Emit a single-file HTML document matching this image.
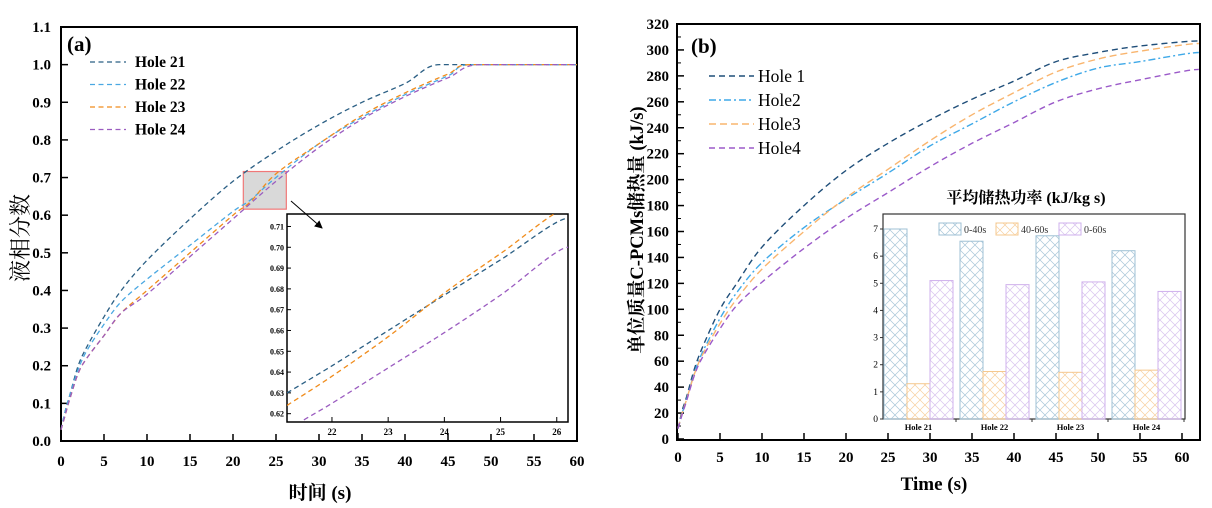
<!DOCTYPE html>
<html><head><meta charset="utf-8">
<style>
body{margin:0;background:#fff;}
svg{display:block;font-family:"Liberation Serif","Noto Serif CJK SC",serif;}
.tk{font-weight:bold;font-size:15px;}
</style></head>
<body>
<svg id="svg" width="1212" height="508" viewBox="0 0 1212 508">
<defs>
<pattern id="hb" width="10" height="10" patternUnits="userSpaceOnUse"><path d="M0,0L10,10M10,0L0,10" stroke="#a8c6d8" stroke-width="0.7"/></pattern>
<pattern id="ho" width="10" height="10" patternUnits="userSpaceOnUse"><path d="M0,0L10,10M10,0L0,10" stroke="#f7cf9e" stroke-width="0.7"/></pattern>
<pattern id="hp" width="10" height="10" patternUnits="userSpaceOnUse"><path d="M0,0L10,10M10,0L0,10" stroke="#d8c2ee" stroke-width="0.7"/></pattern>
<marker id="arr" markerWidth="8" markerHeight="8" refX="7" refY="4" orient="auto"><path d="M0,0L8,4L0,8z" fill="#000"/></marker>
</defs>
<g id="A"></g><g id="B"></g>
</svg>
<script>
// ---------- Chart (a) data ----------
const aX21=[0,0.5,1,2,3,5,7,10,15,20,25,30,35,40,44,50,60];
const aY21=[0.03,0.08,0.12,0.2,0.25,0.33,0.4,0.48,0.59,0.69,0.77,0.84,0.9,0.95,1.0,1.0,1.0];
const aX22=[0,0.5,1,2,3,5,7,10,15,20,22,25,30,35,40,45,48,60];
const aY22=[0.03,0.08,0.12,0.19,0.24,0.31,0.37,0.43,0.52,0.61,0.64,0.7,0.79,0.86,0.92,0.97,1.0,1.0];
const aX23=[0,0.5,1,2,3,5,7,10,15,20,22,25,30,35,40,45,48,60];
const aY23=[0.03,0.07,0.11,0.18,0.22,0.28,0.34,0.4,0.5,0.6,0.635,0.71,0.79,0.865,0.925,0.975,1.0,1.0];
const aX24=[0,0.5,1,2,3,5,7,10,15,20,25,30,35,40,45,49,60];
const aY24=[0.03,0.07,0.11,0.18,0.22,0.28,0.34,0.39,0.49,0.59,0.69,0.78,0.855,0.915,0.965,1.0,1.0];
const insX21=[21.2,22,23,24,25,26.2];
const insY21=[0.630,0.643,0.660,0.677,0.694,0.714];
const insX23=[21.2,22,23,24,25,26.2];
const insY23=[0.624,0.638,0.657,0.678,0.697,0.719];
const insX24=[21.5,22,23,24,25,26.2];
const insY24=[0.617,0.625,0.642,0.659,0.677,0.700];
const aXTicks=[0,5,10,15,20,25,30,35,40,45,50,55,60];
const aYTicks=[0,0.1,0.2,0.3,0.4,0.5,0.6,0.7,0.8,0.9,1.0,1.1];
const insXTicks=[22,23,24,25,26];
const insYTicks=[0.62,0.63,0.64,0.65,0.66,0.67,0.68,0.69,0.70,0.71];
const aNames=["Hole 21","Hole 22","Hole 23","Hole 24"];
const aColors=["#2b5f84","#4aa8e2","#f08c1c","#9b5cc0"];
// ---------- Chart (b) data ----------
const bX=[0,0.5,1,2,3,5,7,10,15,20,25,30,35,40,45,50,55,62];
const bY1=[8,22,32,55,72,100,120,148,180,207,228,246,262,276,291,298,303,307];
const bY2=[8,20,30,52,68,93,113,136,163,185,205,226,243,260,275,286,291,298];
const bY3=[8,20,30,51,66,89,108,131,160,186,208,230,250,267,283,293,299,305];
const bY4=[8,19,29,50,64,85,103,121,147,170,190,210,228,244,260,270,277,285];
const bXTicks=[0,5,10,15,20,25,30,35,40,45,50,55,60];
const bYTicks=[0,20,40,60,80,100,120,140,160,180,200,220,240,260,280,300,320];
const bNames=["Hole 1","Hole2","Hole3","Hole4"];
const bColors=["#1f4e79","#3fa9e8","#f9b56e","#9b5ac9"];
const bDash=["6,4","7,3,2,3","7,4","6,4"];
const barCats=["Hole 21","Hole 22","Hole 23","Hole 24"];
const bar040=[7.0,6.55,6.75,6.2];
const bar4060=[1.3,1.75,1.72,1.8];
const bar060=[5.1,4.95,5.05,4.7];
const barYTicks=[0,1,2,3,4,5,6,7];
const barSeries=["0-40s","40-60s","0-60s"];

const NS="http://www.w3.org/2000/svg";
function mk(parent,tag,attrs,name,txt){
  const e=document.createElementNS(NS,tag);
  for(const k in attrs)e.setAttribute(k,attrs[k]);
  
  
  if(txt!==undefined)e.textContent=txt;
  parent.appendChild(e);return e;
}
function lin(d0,d1,r0,r1){return v=>r0+(v-d0)*(r1-r0)/(d1-d0);}
function pathD(xs,ys,sx,sy){
  const p=xs.map((x,i)=>[sx(x),sy(ys[i])]);
  let d="M"+p[0][0].toFixed(1)+","+p[0][1].toFixed(1);
  for(let i=0;i<p.length-1;i++){
    const p0=p[i-1]||p[i],p1=p[i],p2=p[i+1],p3=p[i+2]||p2;
    let c1y=p1[1]+(p2[1]-p0[1])/6, c2y=p2[1]-(p3[1]-p1[1])/6;
    if(p1[1]===p2[1]){c1y=p1[1];c2y=p2[1];}
    if(p2[1]===p3[1])c2y=p2[1];
    const c1x=p1[0]+(p2[0]-p0[0])/6, c2x=p2[0]-(p3[0]-p1[0])/6;
    d+="C"+c1x.toFixed(1)+","+c1y.toFixed(1)+" "+c2x.toFixed(1)+","+c2y.toFixed(1)+" "+p2[0].toFixed(1)+","+p2[1].toFixed(1);
  }
  return d;
}

// ===== Chart A =====
const A=document.getElementById('A');
const ax=lin(0,60,61,577), ay=lin(0,1.1,441,27);
mk(A,'rect',{x:61,y:27,width:516,height:414,fill:'none',stroke:'#000','stroke-width':2},'plot-a-frame');
aXTicks.forEach(t=>{
  mk(A,'line',{x1:ax(t),x2:ax(t),y1:441,y2:434,stroke:'#000','stroke-width':1.5},'x-tick-a');
  mk(A,'text',{x:ax(t),y:466,'text-anchor':'middle',class:'tk'},'x-tick-label-a',String(t));
});
aYTicks.forEach(t=>{
  mk(A,'line',{x1:61,x2:68,y1:ay(t),y2:ay(t),stroke:'#000','stroke-width':1.5},'y-tick-a');
  mk(A,'text',{x:51,y:ay(t)+5,'text-anchor':'end',class:'tk'},'y-tick-label-a',t.toFixed(1));
});
mk(A,'rect',{x:ax(21.2),y:ay(0.716),width:ax(26.2)-ax(21.2),height:ay(0.616)-ay(0.716),fill:'#d9d9d9',stroke:'#f07878','stroke-width':1.2},'zoom-region');
const aYs=[aY21,aY22,aY23,aY24], aXs=[aX21,aX22,aX23,aX24];
aYs.forEach((ys,i)=>{
  mk(A,'path',{d:pathD(aXs[i],ys,ax,ay),fill:'none',stroke:aColors[i],'stroke-width':1.3,'stroke-dasharray':'5,3.5'},'line-hole-'+(21+i));
});
mk(A,'text',{x:67,y:51,'font-size':21,'font-weight':'bold'},'panel-label-a','(a)');
aNames.forEach((n,i)=>{
  const y=62+i*22.5;
  mk(A,'line',{x1:90,x2:126,y1:y,y2:y,stroke:aColors[i],'stroke-width':1.3,'stroke-dasharray':'5,3.5'},'legend-line-a');
  mk(A,'text',{x:135,y:y+5,'font-size':15.5,'font-weight':'bold'},'legend-label-a',n);
});
mk(A,'text',{x:320,y:499,'text-anchor':'middle','font-size':19,'font-weight':'bold'},'x-axis-title-a','时间 (s)');
mk(A,'text',{x:0,y:0,'text-anchor':'middle','font-size':22,transform:'translate(28,238) rotate(-90)'},'y-axis-title-a','液相分数');
// inset a
const ix=lin(21.2,26.2,287,568), iy=lin(0.616,0.716,422,214);
mk(A,'rect',{x:287,y:214,width:281,height:208,fill:'#fff',stroke:'#000','stroke-width':1.5},'inset-a-frame');
insXTicks.forEach(t=>{
  mk(A,'line',{x1:ix(t),x2:ix(t),y1:422,y2:417,stroke:'#000'},'inset-x-tick');
  mk(A,'text',{x:ix(t),y:435,'text-anchor':'middle','font-size':9,'font-weight':'bold'},'inset-x-tick-label',String(t));
});
insYTicks.forEach(t=>{
  mk(A,'line',{x1:287,x2:291,y1:iy(t),y2:iy(t),stroke:'#000'},'inset-y-tick');
  mk(A,'text',{x:284,y:iy(t)+3,'text-anchor':'end','font-size':8,'font-weight':'bold'},'inset-y-tick-label',t.toFixed(2));
});
const cl=mk(A,'clipPath',{id:'clipA'},'inset-clip');
mk(cl,'rect',{x:287,y:214,width:281,height:208},'inset-clip-rect');
const ig=mk(A,'g',{'clip-path':'url(#clipA)'},'inset-a-lines');
[[insX21,insY21,0],[insX23,insY23,2],[insX24,insY24,3]].forEach(([xs,ys,c])=>{
  mk(ig,'path',{d:pathD(xs,ys,ix,iy),fill:'none',stroke:aColors[c],'stroke-width':1.3,'stroke-dasharray':'5,3.5'},'inset-line-hole-'+(21+c));
});
mk(A,'line',{x1:291,y1:201,x2:322,y2:228,stroke:'#000','stroke-width':1,'marker-end':'url(#arr)'},'zoom-arrow');

// ===== Chart B =====
const B=document.getElementById('B');
const bx=lin(0,60,678,1182), by=lin(0,320,439,24);
mk(B,'rect',{x:677,y:24,width:523,height:416,fill:'none',stroke:'#000','stroke-width':2},'plot-b-frame');
bXTicks.forEach(t=>{
  mk(B,'line',{x1:bx(t),x2:bx(t),y1:440,y2:433,stroke:'#000','stroke-width':1.5},'x-tick-b');
  mk(B,'text',{x:bx(t),y:462,'text-anchor':'middle',class:'tk'},'x-tick-label-b',String(t));
});
bYTicks.forEach(t=>{
  mk(B,'line',{x1:677,x2:684,y1:by(t),y2:by(t),stroke:'#000','stroke-width':1.5},'y-tick-b');
  if(t<320)mk(B,'line',{x1:677,x2:681,y1:by(t+10),y2:by(t+10),stroke:'#000','stroke-width':1},'y-minor-tick-b');
  mk(B,'text',{x:669,y:by(t)+5,'text-anchor':'end',class:'tk'},'y-tick-label-b',String(t));
});
const bYs=[bY1,bY2,bY3,bY4];
const bcl=mk(B,'clipPath',{id:'clipB'},'plot-b-clip');
mk(bcl,'rect',{x:677,y:24,width:523,height:416},'plot-b-clip-rect');
const bg=mk(B,'g',{'clip-path':'url(#clipB)'},'plot-b-lines');
bYs.forEach((ys,i)=>{
  mk(bg,'path',{d:pathD(bX,ys,bx,by),fill:'none',stroke:bColors[i],'stroke-width':1.4,'stroke-dasharray':bDash[i]},'line-hole-'+(i+1));
});
mk(B,'text',{x:691,y:53,'font-size':21,'font-weight':'bold'},'panel-label-b','(b)');
bNames.forEach((n,i)=>{
  const y=76+i*24;
  mk(B,'line',{x1:709,x2:754,y1:y,y2:y,stroke:bColors[i],'stroke-width':1.4,'stroke-dasharray':bDash[i]},'legend-line-b');
  mk(B,'text',{x:758,y:y+6,'font-size':17.5},'legend-label-b',n);
});
mk(B,'text',{x:934,y:490,'text-anchor':'middle','font-size':19,'font-weight':'bold'},'x-axis-title-b','Time (s)');
mk(B,'text',{x:0,y:0,'text-anchor':'middle','font-size':18.5,'font-weight':'bold',transform:'translate(643,230) rotate(-90)'},'y-axis-title-b','单位质量C-PCMs储热量 (kJ/s)');
// inset b bar chart
const iby=lin(0,7,419,229);
mk(B,'rect',{x:883,y:214,width:302,height:205,fill:'#fff',stroke:'#333','stroke-width':1.2},'inset-b-frame');
mk(B,'text',{x:1026,y:203,'text-anchor':'middle','font-size':16,'font-weight':'bold'},'inset-b-title','平均储热功率 (kJ/kg s)');
barYTicks.forEach(t=>{
  mk(B,'line',{x1:880,x2:883,y1:iby(t),y2:iby(t),stroke:'#333'},'bar-y-tick');
  mk(B,'text',{x:878,y:iby(t)+3,'text-anchor':'end','font-size':9.5},'bar-y-tick-label',String(t));
});
const bvals=[bar040,bar4060,bar060], fills=['url(#hb)','url(#ho)','url(#hp)'], strokes=['#9fc0d4','#f5c88f','#cfb0ec'];
barCats.forEach((c,i)=>{
  const gx=884+i*76;
  bvals.forEach((vals,j)=>{
    mk(B,'rect',{x:gx+j*23,y:iby(vals[i]),width:23,height:419-iby(vals[i]),fill:fills[j],stroke:strokes[j],'stroke-width':1},'bar-'+barSeries[j]+'-'+c.replace(' ','').toLowerCase());
  });
  mk(B,'text',{x:gx+34.5,y:430,'text-anchor':'middle','font-size':8.5,'font-weight':'bold'},'bar-category-label',c);
  mk(B,'line',{x1:gx+72,x2:gx+72,y1:419,y2:422,stroke:'#333'},'bar-x-tick');
});
const lgx=[939,996,1059];
barSeries.forEach((s,j)=>{
  mk(B,'rect',{x:lgx[j],y:223,width:22,height:12,fill:fills[j],stroke:strokes[j]},'bar-legend-swatch');
  mk(B,'text',{x:lgx[j]+25,y:233,'font-size':10,fill:'#333'},'bar-legend-label',s);
});
</script>
</body></html>
